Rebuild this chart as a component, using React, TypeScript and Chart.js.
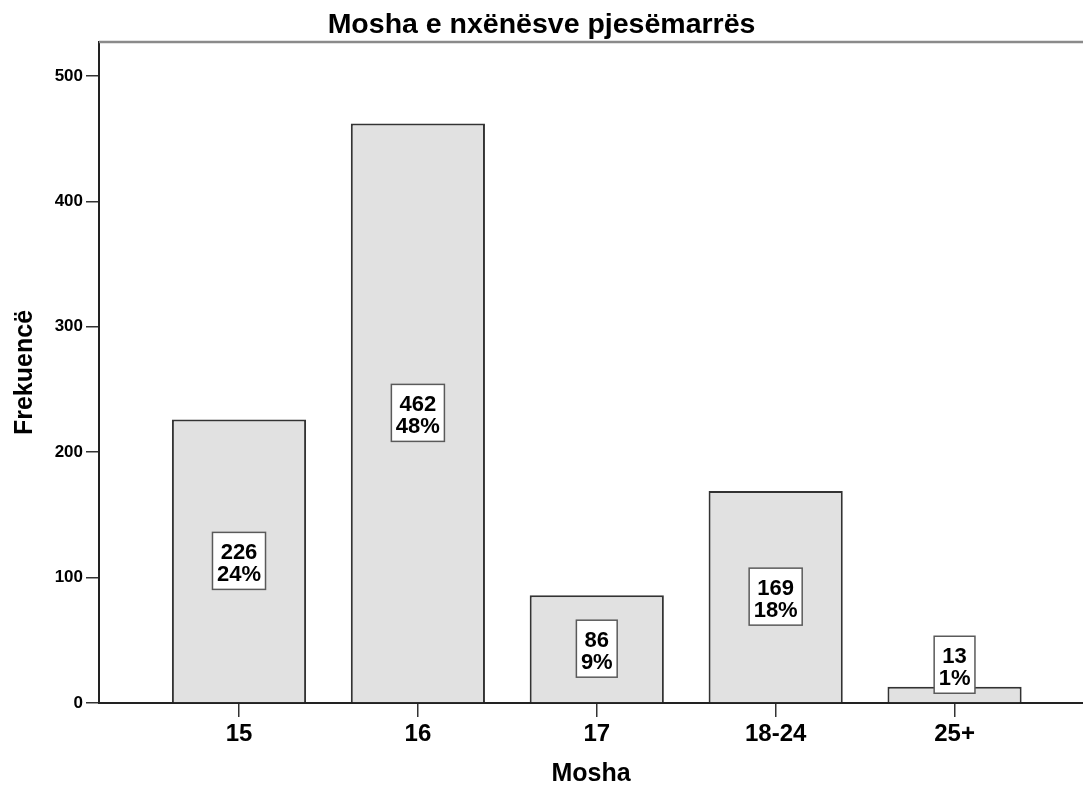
import React, { useEffect, useRef } from "react";
import { Chart, registerables } from "chart.js";

Chart.register(...registerables);

const CATEGORIES = ["15", "16", "17", "18-24", "25+"];
const FREQUENCIES = [226, 462, 86, 169, 13];
const Y_TICKS = [0, 100, 200, 300, 400, 500];
const TITLE = "Mosha e nxënësve pjesëmarrës";
const X_TITLE = "Mosha";
const Y_TITLE = "Frekuencë";

const FONT = "'Liberation Sans', Arial, Helvetica, sans-serif";

export default function App() {
  const ref = useRef<HTMLCanvasElement>(null);

  useEffect(() => {
    document.body.style.margin = "0";
    const canvas = ref.current;
    if (!canvas) return;
    const total = FREQUENCIES.reduce((a, b) => a + b, 0);

    const topLine = {
      id: "topLine",
      afterDraw(chart: any) {
        const { ctx, chartArea } = chart;
        ctx.save();
        ctx.strokeStyle = "#8a8a8a";
        ctx.lineWidth = 2.5;
        ctx.beginPath();
        ctx.moveTo(chartArea.left, chartArea.top);
        ctx.lineTo(chart.width, chartArea.top);
        ctx.stroke();
        ctx.restore();
      },
    };

    const boxLabels = {
      id: "boxLabels",
      afterDatasetsDraw(chart: any) {
        const meta = chart.getDatasetMeta(0);
        const ctx = chart.ctx;
        ctx.save();
        ctx.font = `bold 22px ${FONT}`;
        meta.data.forEach((el: any, i: number) => {
          const { x, y, base } = el.getProps(["x", "y", "base"], true);
          const l1 = String(FREQUENCIES[i]);
          const l2 = Math.round((FREQUENCIES[i] / total) * 100) + "%";
          const w = Math.max(ctx.measureText(l1).width, ctx.measureText(l2).width) + 9;
          const h = 57;
          let cy = (y + base) / 2;
          cy = Math.min(cy, base - 9 - h / 2);
          ctx.fillStyle = "#ffffff";
          ctx.fillRect(x - w / 2, cy - h / 2, w, h);
          ctx.strokeStyle = "#5a5a5a";
          ctx.lineWidth = 1.5;
          ctx.strokeRect(x - w / 2, cy - h / 2, w, h);
          ctx.fillStyle = "#000";
          ctx.textAlign = "center";
          ctx.textBaseline = "alphabetic";
          ctx.fillText(l1, x, cy - 1.5);
          ctx.fillText(l2, x, cy + 20.5);
        });
        ctx.restore();
      },
    };

    const chart = new Chart(canvas, {
      type: "bar",
      data: {
        datasets: [
          {
            label: Y_TITLE,
            data: FREQUENCIES.map((v, i) => ({ x: i, y: v })),
            backgroundColor: "#e1e1e1",
            borderColor: "#333333",
            borderWidth: 2,
            categoryPercentage: 0.75,
            barPercentage: 1,
          },
        ],
      },
      options: {
        responsive: false,
        devicePixelRatio: 1,
        animation: false,
        layout: { padding: 0 },
        plugins: {
          legend: { display: false },
          tooltip: { enabled: false },
          title: {
            display: true,
            text: TITLE,
            color: "#000",
            font: { family: FONT, size: 28.5, weight: "bold" },
            padding: { top: 7.8, bottom: 0 },
          },
        },
        scales: {
          x: {
            type: "linear",
            offset: false,
            min: -0.7826,
            max: 4.718,
            afterBuildTicks: (s: any) => {
              s.ticks = CATEGORIES.map((_, i) => ({ value: i }));
            },
            afterFit: (s: any) => {
              s.height = 86;
            },
            ticks: {
              callback: (v: any) => CATEGORIES[v] ?? "",
              color: "#000",
              font: { family: FONT, size: 24, weight: "bold" },
              padding: 3,
              maxRotation: 0,
              autoSkip: false,
            },
            grid: { offset: false, drawOnChartArea: false, tickLength: 14, color: "#333", lineWidth: 1.5 },
            border: { color: "#222", width: 2 },
            title: {
              display: true,
              text: X_TITLE,
              color: "#000",
              font: { family: FONT, size: 25, weight: "bold" },
              padding: { top: 0, bottom: 0 },
            },
          },
          y: {
            min: 0,
            max: 527,
            afterBuildTicks: (s: any) => {
              s.ticks = Y_TICKS.map((v) => ({ value: v }));
            },
            afterFit: (s: any) => {
              s.width = 99;
            },
            ticks: {
              color: "#000",
              font: { family: FONT, size: 17, weight: "bold" },
              padding: 3,
            },
            grid: { drawOnChartArea: false, tickLength: 13, color: "#333", lineWidth: 1.5 },
            border: { color: "#222", width: 2 },
            title: {
              display: true,
              text: Y_TITLE,
              color: "#000",
              font: { family: FONT, size: 25, weight: "bold" },
              padding: { top: 10.6, bottom: 0 },
            },
          },
        },
      },
      plugins: [topLine, boxLabels],
    } as any);

    return () => chart.destroy();
  }, []);

  return <canvas ref={ref} width={1083} height={789} style={{ display: "block" }} />;
}
